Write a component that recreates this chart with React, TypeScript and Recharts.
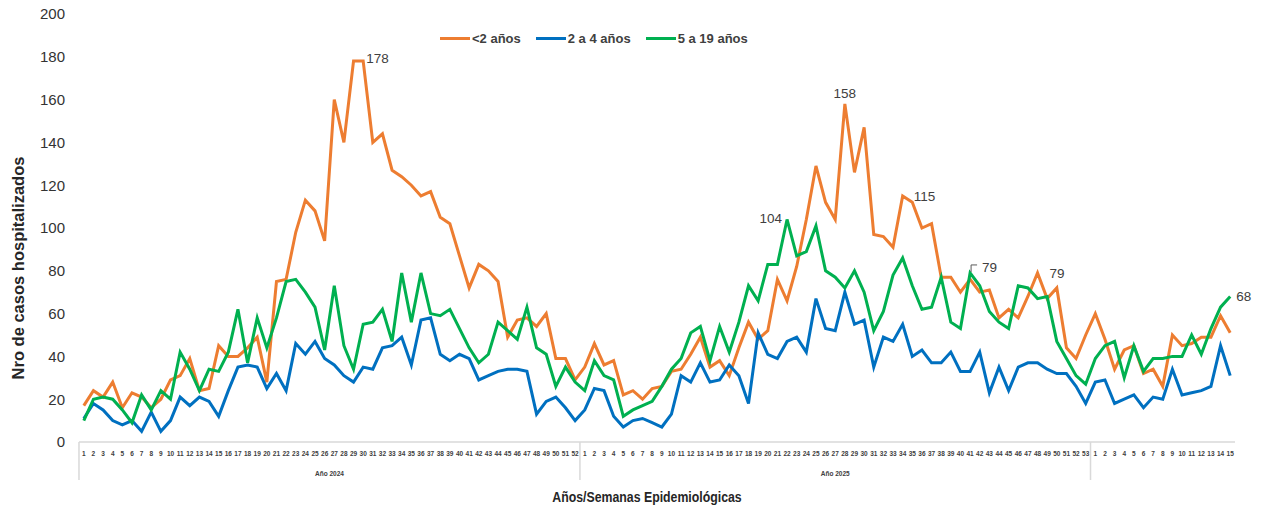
import { LineChart, Line, XAxis, YAxis, Legend, LabelList } from 'recharts'

const YEARS = [2024, 2025, 2026]
const WEEKS_PER_YEAR = [52, 53, 15]
const YEAR_LABELS = ['Año 2024', 'Año 2025', '']

// <2 años
const under2_2024 = [17, 24, 21, 28, 16, 23, 21, 16, 20, 29, 31, 39, 24, 25, 45, 40, 40, 44, 49, 28, 75, 76, 98, 113, 108, 94, 160, 140, 178, 178, 140, 144, 127, 124, 120, 115, 117, 105, 102, 87, 72, 83, 80, 75, 49, 57, 58, 54, 60, 39, 39, 29]
const under2_2025 = [35, 46, 36, 38, 22, 24, 20, 25, 26, 33, 34, 41, 49, 35, 38, 31, 44, 56, 48, 52, 76, 66, 82, 104, 129, 112, 104, 158, 126, 147, 97, 96, 91, 115, 112, 100, 102, 77, 77, 70, 76, 70, 71, 58, 62, 58, 68, 79, 67, 72, 44, 39, 50]
const under2_2026 = [60, 48, 34, 43, 45, 32, 34, 26, 50, 45, 46, 49, 49, 59, 51]

// 2 a 4 años
const age2to4_2024 = [11, 18, 15, 10, 8, 10, 5, 14, 5, 10, 21, 17, 21, 19, 12, 24, 35, 36, 35, 25, 32, 24, 46, 41, 47, 39, 36, 31, 28, 35, 34, 44, 45, 49, 36, 57, 58, 41, 38, 41, 39, 29, 31, 33, 34, 34, 33, 13, 19, 21, 16, 10]
const age2to4_2025 = [15, 25, 24, 12, 7, 10, 11, 9, 7, 13, 31, 28, 37, 28, 29, 36, 31, 18, 51, 41, 39, 47, 49, 42, 67, 53, 52, 70, 55, 57, 35, 49, 47, 55, 40, 43, 37, 37, 42, 33, 33, 42, 23, 35, 24, 35, 37, 37, 34, 32, 32, 26, 18]
const age2to4_2026 = [28, 29, 18, 20, 22, 16, 21, 20, 34, 22, 23, 24, 26, 45, 31]

// 5 a 19 años
const age5to19_2024 = [10, 20, 21, 20, 15, 9, 22, 15, 24, 20, 42, 34, 24, 34, 33, 42, 62, 37, 58, 44, 58, 75, 76, 70, 63, 43, 73, 45, 34, 55, 56, 62, 47, 79, 56, 79, 60, 59, 62, 53, 44, 37, 41, 56, 52, 48, 63, 44, 41, 26, 35, 28]
const age5to19_2025 = [24, 38, 31, 29, 12, 15, 17, 19, 26, 34, 39, 51, 54, 38, 54, 42, 56, 73, 66, 83, 83, 104, 87, 89, 101, 80, 77, 72, 80, 70, 52, 61, 78, 86, 73, 62, 63, 77, 56, 53, 79, 73, 61, 56, 53, 73, 72, 67, 68, 47, 39, 31, 27]
const age5to19_2026 = [39, 45, 47, 30, 45, 33, 39, 39, 40, 40, 50, 41, 53, 63, 68]

const Y_TICKS = [0, 20, 40, 60, 80, 100, 120, 140, 160, 180, 200]

const under2 = [under2_2024, under2_2025, under2_2026]
const age2to4 = [age2to4_2024, age2to4_2025, age2to4_2026]
const age5to19 = [age5to19_2024, age5to19_2025, age5to19_2026]

const data = YEARS.flatMap((year, yi) =>
  Array.from({ length: WEEKS_PER_YEAR[yi] }, (_, i) => ({
    key: `${year}-${i + 1}`,
    year,
    yearIndex: yi,
    week: i + 1,
    under2: under2[yi][i],
    age2to4: age2to4[yi][i],
    age5to19: age5to19[yi][i],
  }))
)

const byKey: Record<string, (typeof data)[number]> = {}
data.forEach((d) => (byKey[d.key] = d))

// labelled points
const under2Notes = [
  { key: '2024-30', dx: 3, dy: -3, anchor: 'start' },
  { key: '2025-28', dx: 0, dy: -10, anchor: 'middle' },
  { key: '2025-34', dx: 11, dy: 1, anchor: 'start' },
  { key: '2025-48', dx: 12, dy: 1, anchor: 'start' },
]
const age5to19Notes = [
  { key: '2025-22', dx: -5, dy: -1, anchor: 'end' },
  { key: '2025-41', dx: 12, dy: -5, anchor: 'start', leader: true },
  { key: '2026-15', dx: 6, dy: 0, anchor: 'start' },
]

const ORANGE = '#ED7D31'
const BLUE = '#0070C0'
const GREEN = '#00B050'
const SANS = "'Liberation Sans', Arial, sans-serif"

const WIDTH = 1261
const HEIGHT = 510
const MARGIN = { top: 14, right: 26, bottom: 28, left: 0 }
const Y_WIDTH = 79
const PAD = 4.8
const STEP = (WIDTH - MARGIN.right - Y_WIDTH - 2 * PAD) / (data.length - 1)

function WeekTick(props: any) {
  const { x, y, payload } = props
  const d = byKey[payload.value]
  if (!d) return null
  const n = WEEKS_PER_YEAR[d.yearIndex]
  const mid = Math.ceil((n + 1) / 2)
  const label = YEAR_LABELS[d.yearIndex]
  return (
    <g>
      <text x={x} y={y + 14} textAnchor="middle" fontSize={6.5} fontWeight="bold" fontFamily={SANS} fill="#404040">
        {d.week}
      </text>
      {d.week === 1 && <line x1={x - STEP / 2} x2={x - STEP / 2} y1={y} y2={y + 38} stroke="#d9d9d9" strokeWidth={1.5} />}
      {d.week === mid && label && (
        <text x={x + ((n + 1) / 2 - mid) * STEP} y={y + 34} textAnchor="middle" fontSize={6.5} fontWeight="bold" fontFamily={SANS} fill="#404040">
          {label}
        </text>
      )}
    </g>
  )
}

function makeNote(notes: any[]) {
  return (props: any) => {
    const { x, y, value, index } = props
    const note = notes.find((n: any) => n.key === data[index]?.key)
    if (!note) return null
    return (
      <g>
        {note.leader && <path d={`M${x + 1},${y - 1} V${y - 8} H${x + 7}`} stroke="#595959" strokeWidth={1} fill="none" />}
        <text x={x + note.dx} y={y + note.dy} textAnchor={note.anchor} dominantBaseline="central" fontSize={13.5} fontFamily={SANS} fill="#404040">
          {value}
        </text>
      </g>
    )
  }
}

const legendItems = [
  { label: '<2 años', color: ORANGE },
  { label: '2 a 4 años', color: BLUE },
  { label: '5 a 19 años', color: GREEN },
]

function LegendContent() {
  return (
    <div style={{ display: 'flex', alignItems: 'center', gap: 15 }}>
      {legendItems.map((it) => (
        <div key={it.label} style={{ display: 'flex', alignItems: 'center' }}>
          <span style={{ width: 30, height: 3, background: it.color, display: 'inline-block', marginRight: 2 }} />
          <span style={{ fontFamily: SANS, fontWeight: 'bold', fontSize: 13, color: '#404040' }}>{it.label}</span>
        </div>
      ))}
    </div>
  )
}

const titleStyle = {
  position: 'absolute' as const,
  whiteSpace: 'nowrap' as const,
  fontFamily: SANS,
  fontWeight: 'bold' as const,
  color: '#262626',
  lineHeight: '18px',
}

export default function App() {
  return (
    <div style={{ position: 'absolute', left: 0, top: 0, width: WIDTH, height: HEIGHT, background: '#fff' }}>
      <LineChart width={WIDTH} height={HEIGHT} data={data} margin={MARGIN}>
        <XAxis
          dataKey="key"
          interval={0}
          height={40}
          padding={{ left: PAD, right: PAD }}
          axisLine={{ stroke: '#d9d9d9', strokeWidth: 1.5 }}
          tickLine={false}
          tickSize={0}
          tickMargin={0}
          tick={<WeekTick />}
        />
        <YAxis
          width={Y_WIDTH}
          domain={[0, 200]}
          ticks={Y_TICKS}
          axisLine={false}
          tickLine={false}
          tickSize={0}
          tickMargin={14}
          tick={{ fontSize: 15, fontFamily: SANS, fill: '#333' }}
        />
        <Legend
          layout="horizontal"
          verticalAlign="middle"
          align="center"
          content={<LegendContent />}
          wrapperStyle={{ top: 31, left: 440, width: 340 }}
        />
        <Line type="linear" dataKey="under2" name="<2 años" stroke={ORANGE} strokeWidth={3} dot={false} activeDot={false} isAnimationActive={false}>
          <LabelList dataKey="under2" content={makeNote(under2Notes)} />
        </Line>
        <Line type="linear" dataKey="age2to4" name="2 a 4 años" stroke={BLUE} strokeWidth={3} dot={false} activeDot={false} isAnimationActive={false} />
        <Line type="linear" dataKey="age5to19" name="5 a 19 años" stroke={GREEN} strokeWidth={3} dot={false} activeDot={false} isAnimationActive={false}>
          <LabelList dataKey="age5to19" content={makeNote(age5to19Notes)} />
        </Line>
      </LineChart>
      <div style={{ ...titleStyle, fontSize: 16.5, left: 18, top: 268, transform: 'translate(-50%, -50%) rotate(-90deg)' }}>
        Nro de casos hospitalizados
      </div>
      <div style={{ ...titleStyle, fontSize: 15, left: 647, top: 497, transform: 'translate(-50%, -50%) scaleX(0.82)' }}>
        Años/Semanas Epidemiológicas
      </div>
    </div>
  )
}
